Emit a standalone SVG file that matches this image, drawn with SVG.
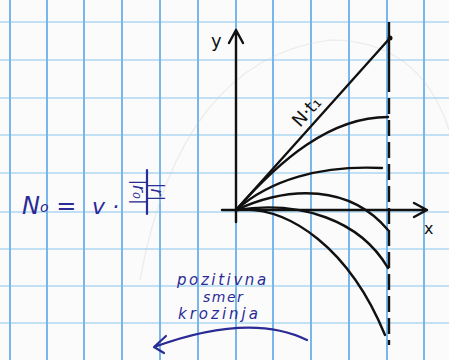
<svg xmlns="http://www.w3.org/2000/svg" width="449" height="360" viewBox="0 0 449 360">
<defs>
<style>
.vg{stroke:#78b6ee;stroke-width:2}
.hg{stroke:#c2e0f4;stroke-width:2}
.ink{fill:none;stroke:#111;stroke-width:2.4;stroke-linecap:round;stroke-linejoin:round}
.blue{fill:none;stroke:#2b2b96;stroke-width:2.2;stroke-linecap:round;stroke-linejoin:round}
.bt{fill:#2b2b96;font-family:"DejaVu Sans",sans-serif;font-style:italic}
.kt{fill:#111;font-family:"DejaVu Sans",sans-serif}
</style>
</defs>
<rect width="449" height="360" fill="#fbfbfb"/>
<g id="grid">
<line class="hg" x1="0" y1="22" x2="449" y2="22"/>
<line class="hg" x1="0" y1="60" x2="449" y2="60"/>
<line class="hg" x1="0" y1="98" x2="449" y2="98"/>
<line class="hg" x1="0" y1="135" x2="449" y2="135"/>
<line class="hg" x1="0" y1="173" x2="449" y2="173"/>
<line class="hg" x1="0" y1="212" x2="449" y2="212"/>
<line class="hg" x1="0" y1="249" x2="449" y2="249"/>
<line class="hg" x1="0" y1="286" x2="449" y2="286"/>
<line class="hg" x1="0" y1="323" x2="449" y2="323"/>
<line class="vg" x1="10" y1="0" x2="10" y2="360"/>
<line class="vg" x1="47" y1="0" x2="47" y2="360"/>
<line class="vg" x1="84" y1="0" x2="84" y2="360"/>
<line class="vg" x1="122" y1="0" x2="122" y2="360"/>
<line class="vg" x1="160" y1="0" x2="160" y2="360"/>
<line class="vg" x1="198" y1="0" x2="198" y2="360"/>
<line class="vg" x1="236" y1="0" x2="236" y2="360"/>
<line class="vg" x1="273" y1="0" x2="273" y2="360"/>
<line class="vg" x1="311" y1="0" x2="311" y2="360"/>
<line class="vg" x1="349" y1="0" x2="349" y2="360"/>
<line class="vg" x1="387" y1="0" x2="387" y2="360"/>
<line class="vg" x1="424" y1="0" x2="424" y2="360"/>
<path d="M140,280 Q180,60 330,40 Q420,40 449,130" fill="none" stroke="#ccc" stroke-width="1.2" opacity="0.35"/>
</g>
<g id="axes">
<path class="ink" d="M236,222 L236,30 M229,43 L236,30 L243,43"/>
<path class="ink" d="M222,210 L427,210 M414,203 L427,210 L414,217"/>
<text class="kt" x="211" y="47" font-size="18">y</text>
<text class="kt" x="424" y="234" font-size="16">x</text>
</g>
<g id="curves">
<line class="ink" x1="236" y1="210" x2="390" y2="38"/>
<circle cx="390" cy="38" r="2.5" fill="#111"/>
<path class="ink" d="M236,210 C280,160 330,117 388,117"/>
<path class="ink" d="M236,210 C270,180 320,165 382,168"/>
<path class="ink" d="M236,210 C290,185 350,185 388,230"/>
<path class="ink" d="M236,210 C300,200 360,220 388,268"/>
<path class="ink" d="M236,210 C290,205 350,250 385,335"/>
<line x1="389" y1="22" x2="389" y2="345" stroke="#111" stroke-width="2.4" stroke-dasharray="70 6 16 6 16 6 16 6 16 6 16 6 16 6 16 6 16 6 16 6 16 6 16 6"/>
<text class="kt" x="0" y="0" font-size="18" transform="translate(300,128) rotate(-48)">N·t₁</text>
</g>
<g id="formula">
<text class="bt" x="22" y="214" font-size="24">N<tspan font-size="14" dy="-2">o</tspan><tspan dy="2"> =</tspan></text>
<text class="bt" x="92" y="214" font-size="22">v ·</text>
<g transform="translate(147,192) rotate(90)">
<text class="bt" x="0" y="-4" font-size="17" text-anchor="middle">|r|</text>
<line class="blue" x1="-22" y1="0" x2="22" y2="0"/>
<text class="bt" x="0" y="14" font-size="17" text-anchor="middle">|r₀|</text>
</g>
</g>
<g id="direction">
<text class="bt" x="177" y="285" font-size="15" letter-spacing="2.6">pozitivna</text>
<text class="bt" x="203" y="302" font-size="14" letter-spacing="1.5">smer</text>
<text class="bt" x="178" y="319" font-size="15" letter-spacing="3">krozinja</text>
<path class="blue" d="M307,340 Q250,312 154,347 M166,336 L154,347 L164,353"/>
</g>
</svg>
